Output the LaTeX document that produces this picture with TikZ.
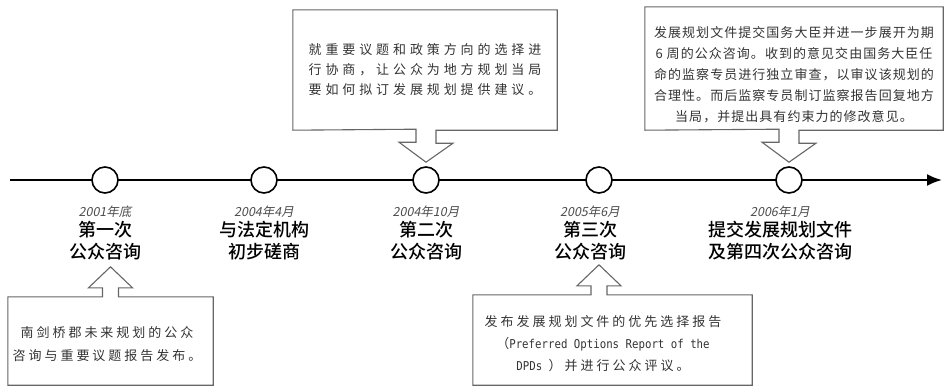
\documentclass[tikz,border=0pt]{standalone}
\usepackage{fontspec}
\setmainfont{Noto Sans CJK SC}
\newfontfamily\titlefont{Noto Sans CJK SC Medium}
\newfontfamily\datefont[FakeSlant=0.2]{Noto Sans CJK SC}
\newfontfamily\notefontA[LetterSpace=30]{Noto Sans CJK SC}
\newfontfamily\notefontB[LetterSpace=8]{Noto Sans CJK SC}
\newfontfamily\notefontC[LetterSpace=23]{Noto Sans CJK SC}
\newfontfamily\latinfont[FakeStretch=0.88]{DejaVu Sans Mono}
\usetikzlibrary{arrows.meta,positioning,calc}

\begin{document}
\begin{tikzpicture}[
            x = 1pt, y = -1pt, % work on the pixel grid of the layout
            > = {Latex[length=15pt,width=12pt]}, % arrow head style
            event/.style = {circle, draw, line width=1.6pt, fill=white,
                minimum size=26pt, inner sep=0pt},
            datelabel/.style = {font=\datefont\fontsize{12.5}{14}\selectfont,
                text=black!70, inner sep=0pt},
            title/.style = {font=\titlefont\fontsize{18}{22}\selectfont,
                align=center, inner sep=0pt},
            frame/.style = {inner sep=0pt},
            note/.style = {text=black!80, inner sep=0pt},
            callbox/.style = {draw=black!60, line width=1.1pt, line join=miter}
        ]

	\useasboundingbox (0,0) rectangle (948,388);

	% time line
	\coordinate (tstart) at (10,180);
	\coordinate (tend) at (942,180);
	\draw[->, line width=2pt] (tstart) -- (tend);

	% events
	\node[event] (e1) at (105,180) {};
	\node[event] (e2) at (264,180) {};
	\node[event] (e3) at (426,180) {};
	\node[event] (e4) at (599,180) {};
	\node[event] (e5) at (789,180) {};

	\node[datelabel, below=12pt of e1] (d1) {2001年底};
	\node[datelabel, below=12pt of e2] (d2) {2004年4月};
	\node[datelabel, below=12pt of e3] (d3) {2004年10月};
	\node[datelabel, below=12pt of e4, xshift=-9pt] (d4) {2005年6月};
	\node[datelabel, below=12pt of e5, xshift=-9pt] (d5) {2006年1月};

	\node[title, below=3pt of d1] (t1) {第一次\\公众咨询};
	\node[title, below=3pt of d2] (t2) {与法定机构\\初步磋商};
	\node[title, below=3pt of d3] (t3) {第二次\\公众咨询};
	\node[title, below=3pt of d4] (t4) {第三次\\公众咨询};
	\node[title, below=3pt of d5] (t5) {提交发展规划文件\\及第四次公众咨询};

	% call-out frames
	\node[frame, minimum width=264pt, minimum height=120pt] (f2) at (425,70) {};
	\node[frame, minimum width=298pt, minimum height=123pt] (f3) at (794,68.5) {};
	\node[frame, minimum width=205pt, minimum height=88pt] (f1) at (110.5,341) {};
	\node[frame, minimum width=279pt, minimum height=90pt] (f4) at (612.5,340) {};

	\draw[callbox] (f2.south west) |- (f2.north east) |- ($(e3|-f2.south)+(10,0)$)
		-- ++(0,13) -- ++(17,0) -- ($(e3.north)+(0,-4)$) -- ++(-27,-20)
		-- ++(17,0) -- ++(0,-13) -- cycle;
	\draw[callbox] (f3.south west) |- (f3.north east) |- ($(e5|-f3.south)+(10,0)$)
		-- ++(0,13) -- ++(17,0) -- ($(e5.north)+(0,-4)$) -- ++(-27,-20)
		-- ++(17,0) -- ++(0,-13) -- cycle;
	\draw[callbox] (f1.north west) |- (f1.south east) |- ($(f1.north)+(8,0)$)
		-- ++(0,-9) -- ++(14,0) -- ($(f1.north)+(0,-30)$) -- ++(-22,21)
		-- ++(14,0) -- ++(0,9) -- cycle;
	\draw[callbox] (f4.north west) |- (f4.south east) |- ($(e4|-f4.north)+(8,0)$)
		-- ++(0,-9) -- ++(14,0) -- ($(e4|-f4.north)+(0,-30)$) -- ++(-22,21)
		-- ++(14,0) -- ++(0,9) -- cycle;

	% call-out texts
	\node[note, align=left, font=\notefontA\fontsize{13}{20}\selectfont] (n2) at (425,70)
		{就重要议题和政策方向的选择进\\行协商，让公众为地方规划当局\\要如何拟订发展规划提供建议。};
	\node[note, align=center, font=\notefontB\fontsize{13}{21}\selectfont] (n3) at (794,74.5)
		{发展规划文件提交国务大臣并进一步展开为期\\6 周的公众咨询。收到的意见交由国务大臣任\\命的监察专员进行独立审查，以审议该规划的\\合理性。而后监察专员制订监察报告回复地方\\当局，并提出具有约束力的修改意见。};
	\node[note, align=center, font=\notefontC\fontsize{13}{23}\selectfont] (n1) at (107,344.5)
		{南剑桥郡未来规划的公众\\咨询与重要议题报告发布。};
	\node[note, align=center, font=\notefontC\fontsize{13}{22}\selectfont] (n4) at (603,344)
		{发布发展规划文件的优先选择报告\\（{\latinfont\fontsize{12.2}{22}\selectfont Preferred Options Report of the}\\{\latinfont\fontsize{12.2}{22}\selectfont DPDs }）并进行公众评议。};

\end{tikzpicture}
\end{document}
